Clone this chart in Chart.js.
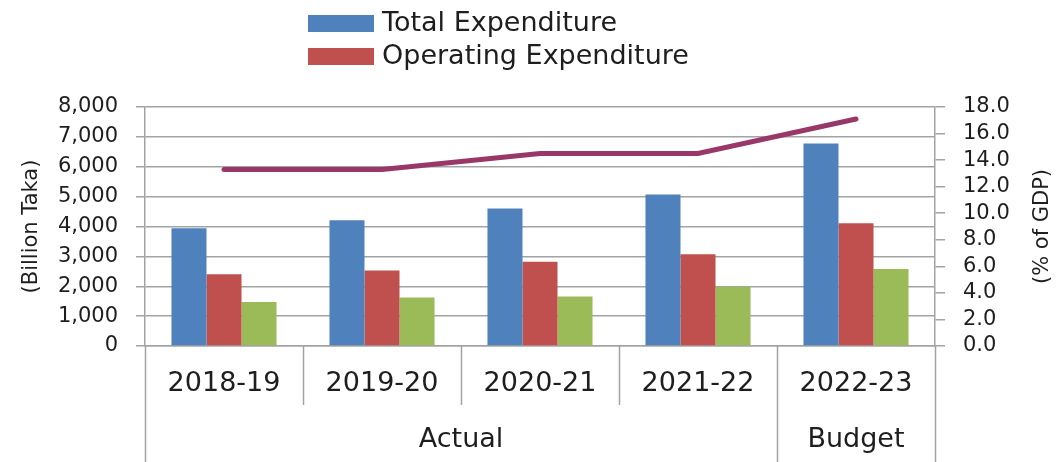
<!DOCTYPE html>
<html>
<head>
<meta charset="utf-8">
<script src="https://cdn.jsdelivr.net/npm/chart.js@4"></script>
<style>
  html, body { margin: 0; padding: 0; background: #fff; }
  #wrap { width: 1060px; height: 462px; position: relative; }
</style>
</head>
<body>
<div id="wrap"><canvas id="expChart"></canvas></div>
<script>
// data
const categories = ['2018-19', '2019-20', '2020-21', '2021-22', '2022-23'];
const groupLabels = ['Actual', 'Budget'];
const groupSpans = [4, 1];
const totalExp = [3940, 4210, 4600, 5070, 6780];
const operatingExp = [2400, 2530, 2820, 3070, 4110];
const developmentExp = [1470, 1620, 1660, 1980, 2580];
const expPctGdp = [13.3, 13.3, 14.5, 14.5, 17.1];
const legendCount = 2; // only first two series show in the legend

const GRID = '#a3a3a3';
const TEXT = '#1e1e1e';
const FONT = '"DejaVu Sans", Verdana, sans-serif';

Chart.defaults.font.family = FONT;
Chart.defaults.color = TEXT;

// legend, year group row, separators and right axis title
const decorations = {
  id: 'decorations',
  afterDraw(chart) {
    const { ctx, chartArea } = chart;
    const x = chart.scales.x;
    const n = categories.length;
    const step = (x.right - x.left) / n;
    ctx.save();

    // separators under the axis
    const bounds = new Set([0]);
    let acc = 0;
    groupSpans.forEach(s => { acc += s; bounds.add(acc); });
    ctx.strokeStyle = GRID;
    ctx.lineWidth = 1.5;
    for (let i = 0; i <= n; i++) {
      const px = Math.round(x.left + i * step) + 0.5;
      const end = bounds.has(i) ? chart.height : chartArea.bottom + 59;
      ctx.beginPath();
      ctx.moveTo(px, chartArea.bottom);
      ctx.lineTo(px, end);
      ctx.stroke();
    }

    // group labels
    ctx.fillStyle = TEXT;
    ctx.font = '27px ' + FONT;
    ctx.textAlign = 'center';
    ctx.textBaseline = 'middle';
    let start = 0;
    groupLabels.forEach((g, k) => {
      const cx = x.left + (start + groupSpans[k] / 2) * step;
      ctx.fillText(g, cx, chartArea.bottom + 94);
      start += groupSpans[k];
    });

    // legend
    ctx.textAlign = 'left';
    chart.data.datasets.slice(0, legendCount).forEach((ds, i) => {
      const by = 15 + i * 33;
      ctx.fillStyle = ds.backgroundColor;
      ctx.fillRect(308, by, 66, 17);
      ctx.fillStyle = TEXT;
      ctx.fillText(ds.label, 382, by + 9);
    });

    // right axis title, reading bottom to top
    ctx.font = '21px ' + FONT;
    ctx.textAlign = 'center';
    ctx.translate(1043, (chartArea.top + chartArea.bottom) / 2);
    ctx.rotate(-Math.PI / 2);
    ctx.fillText('(% of GDP)', 0, 0);
    ctx.restore();
  }
};

const ctx = document.getElementById('expChart').getContext('2d');
new Chart(ctx, {
  type: 'bar',
  data: {
    labels: categories,
    datasets: [
      { label: 'Total Expenditure', data: totalExp, backgroundColor: '#4F81BD', order: 1 },
      { label: 'Operating Expenditure', data: operatingExp, backgroundColor: '#C0504D', order: 1 },
      { label: 'Development Expenditure', data: developmentExp, backgroundColor: '#9BBB59', order: 1 },
      { label: 'Total Expenditure (% of GDP)', type: 'line', data: expPctGdp, yAxisID: 'y1',
        borderColor: '#993868', backgroundColor: '#993868', borderWidth: 5, pointRadius: 0,
        borderCapStyle: 'round', tension: 0, order: 0 }
    ]
  },
  options: {
    responsive: true,
    maintainAspectRatio: false,
    animation: false,
    layout: { padding: { top: 107, left: 0, right: 0, bottom: 57 } },
    datasets: { bar: { categoryPercentage: 0.665, barPercentage: 1.0 } },
    plugins: { legend: { display: false }, tooltip: { enabled: false } },
    scales: {
      x: {
        grid: { display: false, drawTicks: false },
        border: { display: true, color: GRID, width: 1.5 },
        ticks: { font: { size: 27 }, padding: 22, maxRotation: 0, color: TEXT },
        afterFit: s => { s.height = 59; }
      },
      y: {
        position: 'left',
        min: 0, max: 8000,
        grid: { color: GRID, lineWidth: 1.5, tickLength: 9 },
        border: { display: true, color: GRID, width: 1.5 },
        ticks: { stepSize: 1000, padding: 18, autoSkip: false, font: { size: 21 }, color: TEXT,
                 callback: v => v.toLocaleString('en-US') },
        title: { display: true, text: '(Billion Taka)', font: { size: 21 }, color: TEXT,
                 padding: { top: 19, bottom: 0 } },
        afterFit: s => { s.width = 145; }
      },
      y1: {
        position: 'right',
        min: 0, max: 18,
        grid: { drawOnChartArea: false, color: GRID, lineWidth: 1.5, tickLength: 10 },
        border: { display: true, color: GRID, width: 1.5 },
        ticks: { stepSize: 2, padding: 18, autoSkip: false, font: { size: 21 }, color: TEXT,
                 callback: v => v.toFixed(1) },
        afterFit: s => { s.width = 125; }
      }
    }
  },
  plugins: [decorations]
});
</script>
</body>
</html>
